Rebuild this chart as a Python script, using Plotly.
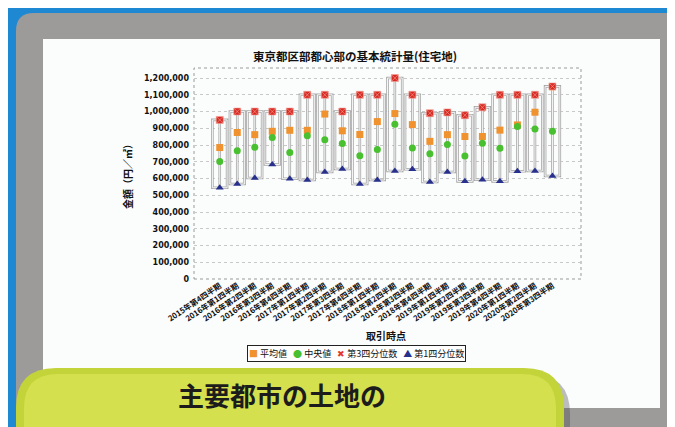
import plotly.graph_objects as go

# ---------------- data ----------------
labels = ["2015年第4四半期",
          "2016年第1四半期", "2016年第2四半期", "2016年第3四半期", "2016年第4四半期",
          "2017年第1四半期", "2017年第2四半期", "2017年第3四半期", "2017年第4四半期",
          "2018年第1四半期", "2018年第2四半期", "2018年第3四半期", "2018年第4四半期",
          "2019年第1四半期", "2019年第2四半期", "2019年第3四半期", "2019年第4四半期",
          "2020年第1四半期", "2020年第2四半期", "2020年第3四半期"]
mean_vals = [785000, 875000, 862000, 882000, 888000, 888000, 985000, 885000, 863000, 940000,
             988000, 922000, 822000, 862000, 851000, 851000, 889000, 920000, 996000, 1148000]
median_vals = [702000, 766000, 787000, 845000, 756000, 855000, 831000, 809000, 736000, 774000,
               924000, 783000, 748000, 803000, 734000, 811000, 781000, 910000, 895000, 883000]
q3_vals = [950000, 1000000, 1000000, 1000000, 1000000, 1100000, 1100000, 1000000, 1100000, 1100000,
           1200000, 1100000, 990000, 995000, 978000, 1025000, 1100000, 1100000, 1100000, 1150000]
q1_vals = [545000, 567000, 603000, 684000, 599000, 591000, 639000, 657000, 567000, 591000,
           645000, 655000, 579000, 639000, 583000, 593000, 583000, 643000, 645000, 615000]
y_ticks = list(range(0, 1200001, 100000))

series_names = ["平均値", "中央値", "第3四分位数", "第1四分位数"]
series_colors = ["#f0922e", "#48c030", "#e2372e", "#27308c"]
legend_glyphs = ["■", "●", "✖", "▲"]

title_text = "東京都区部都心部の基本統計量(住宅地)"
y_title = "金額（円／㎡）"
x_title = "取引時点"
banner_text = "主要都市の土地の"

# ---------------- geometry helpers ----------------
W, H = 675, 427
def X(p): return p / W
def Y(p): return 1 - p / H

def rrect(x0, y0, x1, y1, r):
    pts = [
        ("M", [(x0 + r, y0)]), ("L", [(x1 - r, y0)]), ("Q", [(x1, y0), (x1, y0 + r)]),
        ("L", [(x1, y1 - r)]), ("Q", [(x1, y1), (x1 - r, y1)]), ("L", [(x0 + r, y1)]),
        ("Q", [(x0, y1), (x0, y1 - r)]), ("L", [(x0, y0 + r)]), ("Q", [(x0, y0), (x0 + r, y0)]),
    ]
    s = ""
    for cmd, ps in pts:
        s += cmd + " " + " ".join(f"{X(a):.5f},{Y(b):.5f}" for a, b in ps) + " "
    return s + "Z"

FONT = "Noto Sans CJK JP"
idx = list(range(len(labels)))

fig = go.Figure()

# box outlines (double gray line look)
heights = [a - b for a, b in zip(q3_vals, q1_vals)]
fig.add_trace(go.Bar(x=idx, y=heights, base=q1_vals, width=0.84,
                     marker=dict(color="rgba(0,0,0,0)", line=dict(color="#a8a8a8", width=2.6)),
                     showlegend=False, hoverinfo="skip"))
fig.add_trace(go.Bar(x=idx, y=heights, base=q1_vals, width=0.84,
                     marker=dict(color="rgba(0,0,0,0)", line=dict(color="#ffffff", width=0.9)),
                     showlegend=False, hoverinfo="skip"))

# center lines
lx, ly = [], []
for i, a, b in zip(idx, q1_vals, q3_vals):
    lx += [i, i, None]
    ly += [a, b, None]
fig.add_trace(go.Scatter(x=lx, y=ly, mode="lines", line=dict(color="#a8a8a8", width=2.6),
                         showlegend=False, hoverinfo="skip"))
fig.add_trace(go.Scatter(x=lx, y=ly, mode="lines", line=dict(color="#ffffff", width=0.9),
                         showlegend=False, hoverinfo="skip"))

fig.add_trace(go.Scatter(x=idx, y=mean_vals, mode="markers", name=series_names[0],
                         marker=dict(symbol="square", size=7, color=series_colors[0]),
                         showlegend=False))
fig.add_trace(go.Scatter(x=idx, y=median_vals, mode="markers", name=series_names[1],
                         marker=dict(symbol="circle", size=7, color=series_colors[1]),
                         showlegend=False))
fig.add_trace(go.Scatter(x=idx, y=q3_vals, mode="markers", name=series_names[2],
                         marker=dict(symbol="square-x", size=7, color="#d92a22",
                                     line=dict(color="#f2a49c", width=0.6)),
                         showlegend=False))
fig.add_trace(go.Scatter(x=idx, y=q1_vals, mode="markers", name=series_names[3],
                         marker=dict(symbol="triangle-up", size=7, color=series_colors[3]),
                         showlegend=False))

shapes = [
    # gray frame
    dict(type="path", xref="paper", yref="paper", path=rrect(8, 5, 676, 430, 18),
         fillcolor="#9d9b99", line=dict(width=0), layer="below"),
    # white card
    dict(type="rect", xref="paper", yref="paper", x0=X(35), x1=X(652), y0=Y(400), y1=Y(31),
         fillcolor="#fbfcfc", line=dict(width=0), layer="below"),
    # banner shadow
    dict(type="path", xref="paper", yref="paper", path=rrect(14, 366, 562, 480, 40),
         fillcolor="rgba(70,70,70,0.35)", line=dict(width=0), layer="below"),
    # banner
    dict(type="path", xref="paper", yref="paper", path=rrect(8, 360, 556, 480, 40),
         fillcolor="#c3d33a", line=dict(width=0), layer="below"),
    dict(type="path", xref="paper", yref="paper", path=rrect(16, 366, 548, 480, 34),
         fillcolor="#d4e04e", line=dict(width=0), layer="below"),
    # plot border (dotted)
    dict(type="rect", xref="x domain", yref="y domain", x0=0, x1=1, y0=0, y1=1,
         line=dict(color="#9a9a9a", width=1, dash="dot"), layer="below"),
]

legend_html = "&nbsp;&nbsp;&nbsp;".join(
    f"<span style='color:{c}'>{g}</span>&nbsp;{n}"
    for g, c, n in zip(legend_glyphs, series_colors, series_names))

annotations = [
    dict(text=y_title, x=X(119), y=Y(166), xref="paper", yref="paper", showarrow=False,
         textangle=-90, font=dict(family=FONT, size=10, color="#111", weight="bold"),
         xanchor="center", yanchor="middle"),
    dict(text=x_title, x=X(378), y=Y(327), xref="paper", yref="paper", showarrow=False,
         font=dict(family=FONT, size=10, color="#111", weight="bold"),
         xanchor="center", yanchor="middle"),
    dict(text=legend_html, x=X(348), y=Y(345), xref="paper", yref="paper", showarrow=False,
         font=dict(family=FONT, size=9, color="#111"), bgcolor="#ffffff",
         bordercolor="#222", borderwidth=1, borderpad=1,
         xanchor="center", yanchor="middle"),
    dict(text=banner_text, x=X(274), y=Y(386), xref="paper", yref="paper", showarrow=False,
         font=dict(family=FONT, size=26, color="#1c1c1c", weight="bold"),
         xanchor="center", yanchor="middle"),
]

fig.update_layout(
    width=W, height=H, autosize=False,
    margin=dict(l=0, r=0, t=0, b=0),
    paper_bgcolor="#1f88d2", plot_bgcolor="rgba(0,0,0,0)",
    barmode="overlay", showlegend=False,
    font=dict(family=FONT, color="#111"),
    title=dict(text=title_text, x=X(347), y=Y(49), xanchor="center", yanchor="middle",
               xref="paper", yref="paper",
               font=dict(family=FONT, size=11.5, color="#111", weight="bold")),
    xaxis=dict(domain=[X(186), X(573)], range=[-1.47, 20.63], tickmode="array",
               tickvals=idx, ticktext=labels, tickangle=-34, showgrid=False,
               zeroline=False, showline=False, ticks="", automargin=False,
               tickfont=dict(family=FONT, size=7.8, color="#111", weight="bold")),
    yaxis=dict(domain=[Y(271), Y(60)], range=[0, 1260000], tickmode="array",
               tickvals=y_ticks, tickformat=",d", showgrid=True, gridcolor="#c8c8c8",
               griddash="dot", gridwidth=1, zeroline=False, showline=False, ticks="",
               automargin=False, ticklabelstandoff=4,
               tickfont=dict(family="DejaVu Sans", size=8, color="#111", weight="bold")),
    shapes=shapes,
    annotations=annotations,
)

fig.write_html("out.html")
